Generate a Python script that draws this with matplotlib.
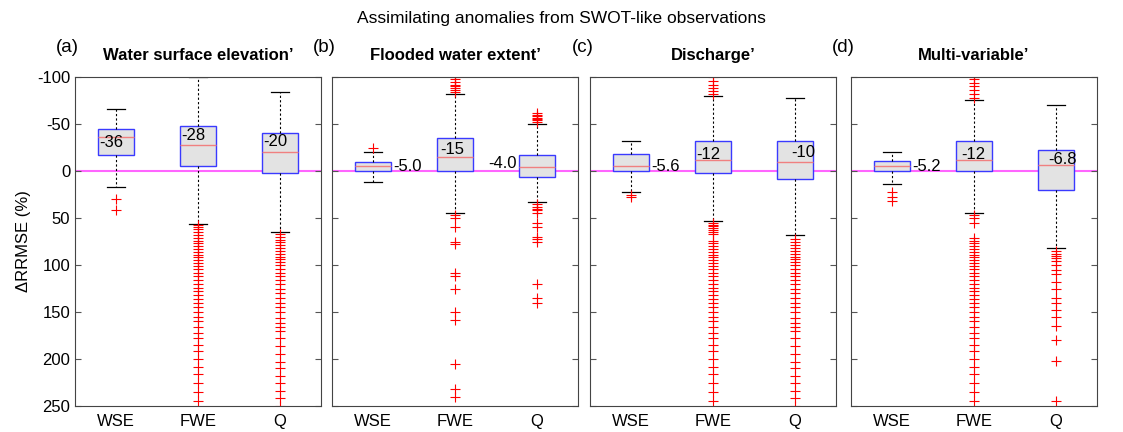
import matplotlib
matplotlib.use("Agg")
import matplotlib.pyplot as plt

plt.rcParams["font.family"] = ["Liberation Sans", "DejaVu Sans"]
plt.rcParams["axes.unicode_minus"] = False

panels = ["(a)", "(b)", "(c)", "(d)"]
titles = ["Water surface elevation\u2019", "Flooded water extent\u2019", "Discharge\u2019", "Multi-variable\u2019"]
variables = ["WSE", "FWE", "Q"]

# box stats per panel, per variable: (whislo, q1, med, q3, whishi)
stats = [
    [(-66, -45, -36, -17, 17), (-100, -48, -28, -5, 56), (-84, -40, -20, 2, 65)],
    [(-20, -10, -5, 0, 12), (-82, -35, -15, 0, 45), (-50, -17, -4, 6, 33)],
    [(-32, -18, -5.6, 0, 22), (-80, -32, -12, 2, 53), (-78, -32, -10, 8, 68)],
    [(-20, -11, -5.2, 0, 14), (-76, -32, -12, 0, 45), (-70, -22, -6.8, 20, 82)],
]
labels = [["-36", "-28", "-20"], ["-5.0", "-15", "-4.0"], ["-5.6", "-12", "-10"], ["-5.2", "-12", "-6.8"]]

fwe_low_dense = [62, 65, 68, 71, 74, 77, 80, 83, 86, 89, 92, 95, 98, 101, 104, 108, 112, 116, 120, 124,
                 128, 132, 136, 140, 145, 150, 155, 160, 166, 172, 178, 185, 192, 200, 208, 216, 225, 235, 245]
q_low_dense = [70, 73, 76, 79, 82, 85, 88, 91, 94, 97, 100, 104, 108, 112, 116, 120, 125, 130, 135, 140,
               145, 150, 156, 162, 166, 170, 178, 186, 195, 203, 210, 218, 226, 234, 242, 250]
outliers = [
    [[30, 42], [57, 60] + fwe_low_dense, q_low_dense + [67]],
    [[-25], [-84, -86, -88, -90, -92, -95, -98, -100, 47, 50, 60, 75, 78, 108, 112, 125, 150, 158, 205, 232, 240],
     [-52, -54, -55, -56, -58, -60, -62, 35, 38, 40, 42, 45, 55, 60, 70, 72, 75, 120, 135, 140]],
    [[25, 28], [-82, -85, -88, -92, -96, -100] + [55, 57, 59, 61, 63, 65, 67] + fwe_low_dense[4:],
     [72, 75] + q_low_dense[3:]],
    [[22, 28, 32], [-78, -82, -86, -90, -94, -98, -100, 47, 50, 55] + fwe_low_dense[3:],
     [85, 88, 90, 93, 96, 100, 105, 110, 118, 125, 135, 140, 148, 155, 165, 180, 202, 245]],
]
# label anchor: (x offset, y value, ha) relative to box position
label_pos = [
    [(-0.2, -30, "left"), (-0.2, -38, "left"), (-0.2, -31, "left")],
    [(0.25, -5, "left"), (-0.18, -23, "left"), (-0.25, -8, "right")],
    [(0.25, -5, "left"), (-0.2, -18, "left"), (-0.05, -20, "left")],
    [(0.25, -5, "left"), (-0.15, -18, "left"), (-0.1, -12, "left")],
]

fig = plt.figure(figsize=(11.23, 4.32), dpi=100)
lefts = [75, 332, 590, 851]
fig.text(0.5, 0.958, "Assimilating anomalies from SWOT-like observations", ha="center", va="center", fontsize=12.5)

for i in range(4):
    ax = fig.add_axes([lefts[i] / 1123, 26 / 432, 246 / 1123, 329 / 432])
    bxp_stats = []
    for j in range(3):
        lo, q1, med, q3, hi = stats[i][j]
        bxp_stats.append(dict(whislo=lo, q1=q1, med=med, q3=q3, whishi=hi, fliers=outliers[i][j], label=variables[j]))
    ax.bxp(bxp_stats, positions=[1, 2, 3], widths=0.45, patch_artist=True,
           boxprops=dict(facecolor="#e3e3e3", edgecolor="#3a3aff", linewidth=1),
           medianprops=dict(color="#f08080", linewidth=1),
           whiskerprops=dict(color="black", linestyle="--", linewidth=0.8, dashes=(2, 2)),
           capprops=dict(color="black", linewidth=0.9),
           flierprops=dict(marker="+", markeredgecolor="red", markersize=7, markeredgewidth=0.8, linestyle="none"))
    ax.axhline(0, color="#ff66ff", linewidth=1.5, zorder=0)
    for j in range(3):
        dx, yv, ha = label_pos[i][j]
        ax.text(j + 1 + dx, yv, labels[i][j], ha=ha, va="center", fontsize=12)
    ax.set_xlim(0.5, 3.5)
    ax.set_ylim(250, -100)
    ax.set_yticks([-100, -50, 0, 50, 100, 150, 200, 250])
    ax.tick_params(direction="in", right=True, top=False, labelsize=12, length=4, color="#555555")
    ax.tick_params(axis="x", length=0, pad=6)
    if i == 0:
        ax.set_ylabel("\u0394RRMSE (%)", fontsize=12)
    else:
        ax.set_yticklabels([])
    for s in ax.spines.values():
        s.set_color("#444444")
        s.set_linewidth(0.8)
    ax.set_title(titles[i], fontsize=12, fontweight="bold", pad=12)
    ax.text(-0.03, 1.09, panels[i], transform=ax.transAxes, fontsize=13.5, ha="center", va="center")

fig.savefig("out.png", dpi=100)
